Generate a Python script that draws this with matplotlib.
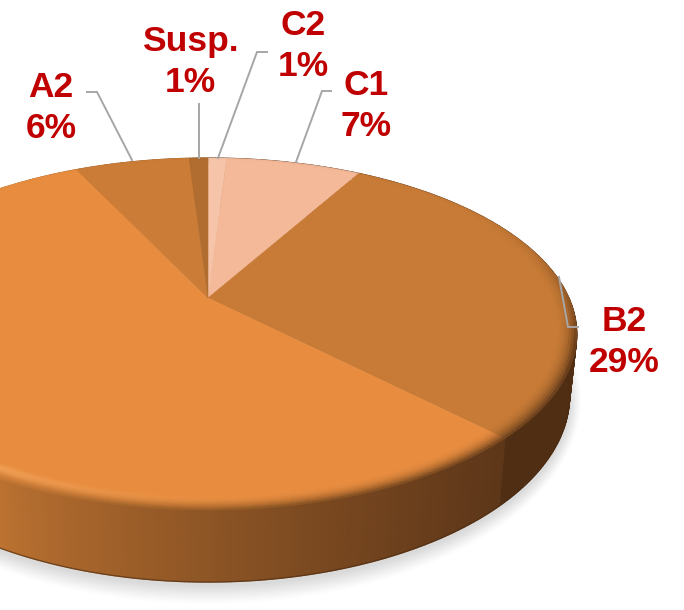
import numpy as np
import matplotlib
matplotlib.use("Agg")
import matplotlib.pyplot as plt
from matplotlib.collections import PolyCollection
from matplotlib.colors import to_rgb
from matplotlib.patches import Ellipse

# data, clockwise from 12 o'clock
categories = ["C2", "C1", "B2", "A1", "A2", "Susp."]
values = [1.0, 7.2, 29.4, 55.3, 6.1, 1.0]
percent_labels = ["1%", "7%", "29%", "", "6%", "1%"]

# styling
face_colors = ["#F6C4A8", "#F4B999", "#C77B36", "#E88D40", "#CB7D38", "#B06D2F"]
side_left = ["#4F2E14", "#4F2E14", "#4F2E14", "#BC7231", "#BC7231", "#BC7231"]
side_right = ["#4F2E14", "#4F2E14", "#4F2E14", "#5E3719", "#5E3719", "#5E3719"]
label_pos = {"C2": (303, 46), "C1": (366, 106), "B2": (624, 342), "A2": (51, 108), "Susp.": (190, 62)}
leaders = {
    "C2": [(267, 52), (257, 52), (218, 158)],
    "C1": [(331, 91), (322, 91), (296, 162)],
    "B2": [(578, 327), (568, 327), (559, 277)],
    "A2": [(87, 92), (97, 92), (132, 160)],
    "Susp.": [(199, 104), (199, 158)],
}


def top_xy(theta, r=1.0):
    """disc point -> picture, top face"""
    u, v = r * np.sin(theta), r * np.cos(theta)
    w = 1 + 0.2047 * v
    return 208 + 361 * u / w, 298 - 168.7 * v / w


def bottom_xy(theta):
    u, v = np.sin(theta), np.cos(theta)
    w = 1 + 0.2047 * v
    return 208 + 354 * u / w, 357 - 179 * v / w


def mix(a, b, t):
    return tuple(np.array(a) * (1 - t) + np.array(b) * t)


fig = plt.figure(figsize=(6.84, 6.10), dpi=100)
ax = fig.add_axes([0, 0, 1, 1])
ax.set_xlim(0, 684)
ax.set_ylim(610, 0)
ax.axis("off")

# shadow under the pie
for grow, alpha in zip(range(22, 0, -3), [0.02, 0.025, 0.03, 0.03, 0.035, 0.035, 0.04, 0.04]):
    ax.add_patch(Ellipse((208, 399), 2 * 362 + grow, 2 * 187 + grow * 1.6,
                         fc="#707070", ec="none", alpha=alpha, zorder=1))

edges = np.concatenate([[0], np.cumsum(values)]) / sum(values) * 2 * np.pi

# side wall
polys, cols = [], []
for i in range(len(values)):
    th = np.linspace(edges[i], edges[i + 1], max(3, int(values[i] * 6)))
    for a, b in zip(th[:-1], th[1:]):
        xa, ya = top_xy(a)
        xb, yb = top_xy(b)
        xc, yc = bottom_xy(b)
        xd, yd = bottom_xy(a)
        polys.append([(xa, ya), (xb, yb), (xc, yc), (xd, yd)])
        t = np.clip((xa + xb) / 2 / 497, 0, 1)
        cols.append(mix(to_rgb(side_left[i]), to_rgb(side_right[i]), t ** 0.8))
ax.add_collection(PolyCollection(polys, facecolors=cols, edgecolors=cols, linewidths=0.8, zorder=2))

# dark line along the bottom of the wall
th = np.linspace(0, 2 * np.pi, 400)
xb, yb = bottom_xy(th)
ax.plot(xb, yb, color="#4A2A10", lw=1.0, alpha=0.6, zorder=2)

# top face
for i in range(len(values)):
    th = np.linspace(edges[i], edges[i + 1], max(3, int(values[i] * 6)))
    x, y = top_xy(th, 0.985)
    ax.fill(np.r_[208, x], np.r_[298, y], color=face_colors[i], lw=0.4, zorder=3)

# bevel rings round the rim
ring = np.linspace(0.945, 1.0, 9)
polys, cols = [], []
for i in range(len(values)):
    th = np.linspace(edges[i], edges[i + 1], max(3, int(values[i] * 6)))
    base = to_rgb(face_colors[i])
    for a, b in zip(th[:-1], th[1:]):
        mid = (a + b) / 2
        front = max(0.0, -np.cos(mid) + 0.25) / 1.25
        right = max(0.0, np.sin(mid)) * np.clip(0.6 - np.cos(mid), 0, 1)
        light = max(0.0, np.cos(mid - np.radians(245))) ** 3
        wall = mix(to_rgb("#8A5320"), to_rgb("#5A3416"), min(right, 1))
        for r0, r1 in zip(ring[:-1], ring[1:]):
            s = (r0 + r1 - 2 * ring[0]) / 2 / (ring[-1] - ring[0])
            c = mix(base, to_rgb("#FFB870"), light * 0.85 * np.sin(np.pi * min(s * 1.35, 1)))
            c = mix(c, wall, min(front + right * 0.7, 1) * np.clip(1 - light, 0, 1) * s ** 2.2)
            p = [top_xy(a, r0), top_xy(b, r0), top_xy(b, r1), top_xy(a, r1)]
            polys.append(p)
            cols.append(c)
ax.add_collection(PolyCollection(polys, facecolors=cols, edgecolors=cols, linewidths=0.4, zorder=4))

# leader lines and labels
for name, pct in zip(categories, percent_labels):
    if not pct:
        continue
    xs, ys = zip(*leaders[name])
    ax.plot(xs, ys, color="#A6A6A6", lw=1.4, zorder=5, solid_joinstyle="miter")
    ax.text(*label_pos[name], f"{name}\n{pct}", color="#C00000", fontsize=25.5, fontweight="bold",
            family="Liberation Sans", ha="center", va="center", linespacing=1.28, zorder=6)

fig.savefig("out.png", dpi=100)
